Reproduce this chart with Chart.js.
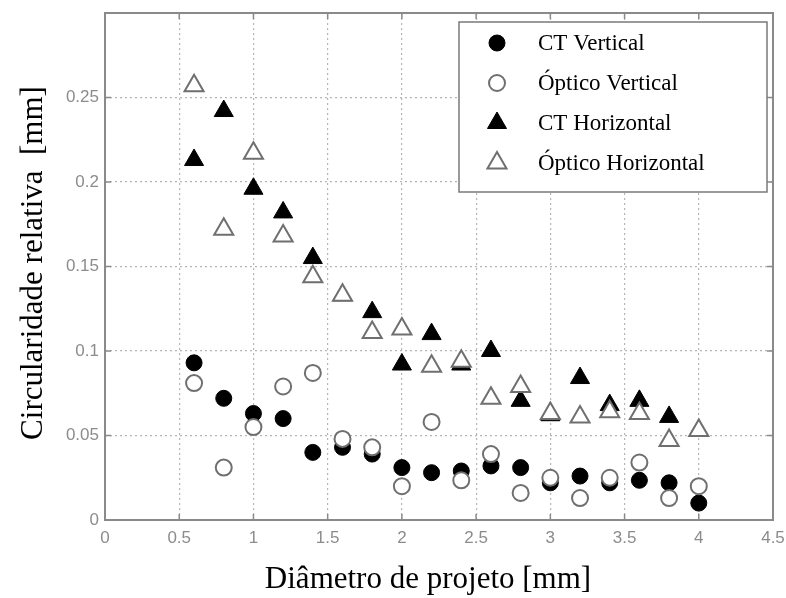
<!DOCTYPE html>
<html>
<head>
<meta charset="utf-8">
<script src="https://cdn.jsdelivr.net/npm/chart.js@4/dist/chart.umd.min.js"></script>
<style>
  html, body { margin: 0; padding: 0; background: #fff; }
  #wrap { width: 786px; height: 598px; }
</style>
</head>
<body>
<div id="wrap"><canvas id="scatter"></canvas></div>
<script>
// diameters (mm)
var diametros = [0.6, 0.8, 1.0, 1.2, 1.4, 1.6, 1.8, 2.0, 2.2, 2.4, 2.6, 2.8, 3.0, 3.2, 3.4, 3.6, 3.8, 4.0];

var ctVertical = [0.093, 0.072, 0.063, 0.060, 0.040, 0.043, 0.039, 0.031, 0.028, 0.029, 0.032, 0.031, 0.022, 0.026, 0.022, 0.0235, 0.022, 0.010];
var opticoVertical = [0.081, 0.031, 0.055, 0.079, 0.087, 0.048, 0.043, 0.020, 0.058, 0.0235, 0.039, 0.016, 0.025, 0.013, 0.025, 0.034, 0.013, 0.020];
var ctHorizontal = [0.213, 0.242, 0.196, 0.182, 0.155, 0.133, 0.123, 0.092, 0.110, 0.092, 0.100, 0.0705, 0.062, 0.084, 0.068, 0.0705, 0.061, 0.053];
var opticoHorizontal = [0.257, 0.172, 0.217, 0.168, 0.144, 0.133, 0.111, 0.113, 0.091, 0.094, 0.072, 0.079, 0.063, 0.061, 0.064, 0.063, 0.047, 0.053];

var xTicks = [0, 0.5, 1, 1.5, 2, 2.5, 3, 3.5, 4, 4.5];
var yTicks = [0, 0.05, 0.1, 0.15, 0.2, 0.25];

function pts(values) {
  return diametros.map(function (d, i) { return { x: d, y: values[i] }; });
}

var gray = "#6f6f6f";
var frameColor = "#8a8a8a";

// MATLAB-style box, inward ticks and legend box
var moldura = {
  id: "moldura",
  afterDraw: function (chart) {
    var c = chart.ctx, a = chart.chartArea;
    var xs = chart.scales.x, ys = chart.scales.y;
    c.save();
    c.strokeStyle = frameColor;
    c.lineWidth = 2;
    c.strokeRect(a.left, a.top, a.right - a.left, a.bottom - a.top);
    c.lineWidth = 1.5;
    c.beginPath();
    xTicks.forEach(function (t) {
      var px = xs.getPixelForValue(t);
      c.moveTo(px, a.bottom); c.lineTo(px, a.bottom - 6);
      c.moveTo(px, a.top); c.lineTo(px, a.top + 6);
    });
    yTicks.forEach(function (t) {
      var py = ys.getPixelForValue(t);
      c.moveTo(a.left, py); c.lineTo(a.left + 6, py);
      c.moveTo(a.right, py); c.lineTo(a.right - 6, py);
    });
    c.stroke();

    // axis titles
    c.fillStyle = "#000";
    c.font = "31px 'Liberation Serif', 'Times New Roman', serif";
    c.textAlign = "center";
    c.textBaseline = "alphabetic";
    c.fillText("Diâmetro de projeto [mm]", 428, 588);
    c.save();
    c.translate(42, 263);
    c.rotate(-Math.PI / 2);
    c.fillText("Circularidade relativa  [mm]", 0, 0);
    c.restore();

    // legend
    var lx = 459, ly = 22, lw = 308, lh = 170;
    c.fillStyle = "#fff";
    c.fillRect(lx, ly, lw, lh);
    c.strokeStyle = "#7a7a7a";
    c.lineWidth = 1.5;
    c.strokeRect(lx, ly, lw, lh);
    var rows = [43, 83, 123, 163];
    c.font = "23px 'Liberation Serif', 'Times New Roman', serif";
    c.textAlign = "left";
    c.textBaseline = "middle";
    chart.data.datasets.forEach(function (ds, i) {
      c.fillStyle = ds.pointBackgroundColor;
      c.strokeStyle = ds.pointBorderColor;
      c.lineWidth = ds.pointBorderWidth;
      Chart.helpers.drawPoint(c, { pointStyle: ds.pointStyle, radius: ds.pointRadius, rotation: 0, borderWidth: ds.pointBorderWidth }, 497, rows[i]);
      c.fillStyle = "#000";
      c.fillText(ds.label, 538, rows[i] + 1);
    });
    c.restore();
  }
};

var ctx = document.getElementById("scatter").getContext("2d");
var myChart = new Chart(ctx, {
  type: "scatter",
  data: {
    datasets: [
      {
        label: "CT Vertical",
        data: pts(ctVertical),
        pointStyle: "circle",
        pointRadius: 8,
        pointBackgroundColor: "#000",
        pointBorderColor: "#000",
        pointBorderWidth: 1,
        order: 3,
      },
      {
        label: "Óptico Vertical",
        data: pts(opticoVertical),
        pointStyle: "circle",
        pointRadius: 8,
        pointBackgroundColor: "#fff",
        pointBorderColor: gray,
        pointBorderWidth: 2,
        order: 1,
      },
      {
        label: "CT Horizontal",
        data: pts(ctHorizontal),
        pointStyle: "triangle",
        pointRadius: 11,
        pointBackgroundColor: "#000",
        pointBorderColor: "#000",
        pointBorderWidth: 1,
        order: 2,
      },
      {
        label: "Óptico Horizontal",
        data: pts(opticoHorizontal),
        pointStyle: "triangle",
        pointRadius: 11,
        pointBackgroundColor: "#fff",
        pointBorderColor: gray,
        pointBorderWidth: 2,
        order: 0,
      },
    ],
  },
  options: {
    responsive: true,
    maintainAspectRatio: false,
    animation: false,
    layout: { padding: { top: 10, right: 8, left: 0, bottom: 0 } },
    plugins: {
      legend: { display: false },
      tooltip: { enabled: false },
    },
    scales: {
      x: {
        type: "linear",
        min: 0,
        max: 4.5,
        afterFit: function (s) { s.height = 78; s.paddingLeft = 0; s.paddingRight = 0; },
        afterBuildTicks: function (s) { s.ticks = xTicks.map(function (v) { return { value: v }; }); },
        ticks: {
          padding: 8,
          color: "#8c8c8c",
          font: { family: "'Liberation Sans', Arial, sans-serif", size: 17 },
          callback: function (v) { return String(v); },
        },
        grid: { color: "#b5b5b5", lineWidth: 1.2, drawTicks: false },
        border: { display: false, dash: [2, 3] },
      },
      y: {
        min: 0,
        max: 0.3,
        afterFit: function (s) { s.width = 105; s.paddingTop = 0; s.paddingBottom = 0; },
        afterBuildTicks: function (s) { s.ticks = yTicks.map(function (v) { return { value: v }; }); },
        ticks: {
          padding: 6,
          color: "#8c8c8c",
          font: { family: "'Liberation Sans', Arial, sans-serif", size: 17 },
          callback: function (v) { return String(Math.round(v * 100) / 100); },
        },
        grid: { color: "#b5b5b5", lineWidth: 1.2, drawTicks: false },
        border: { display: false, dash: [2, 3] },
      },
    },
  },
  plugins: [moldura],
});
</script>
</body>
</html>
